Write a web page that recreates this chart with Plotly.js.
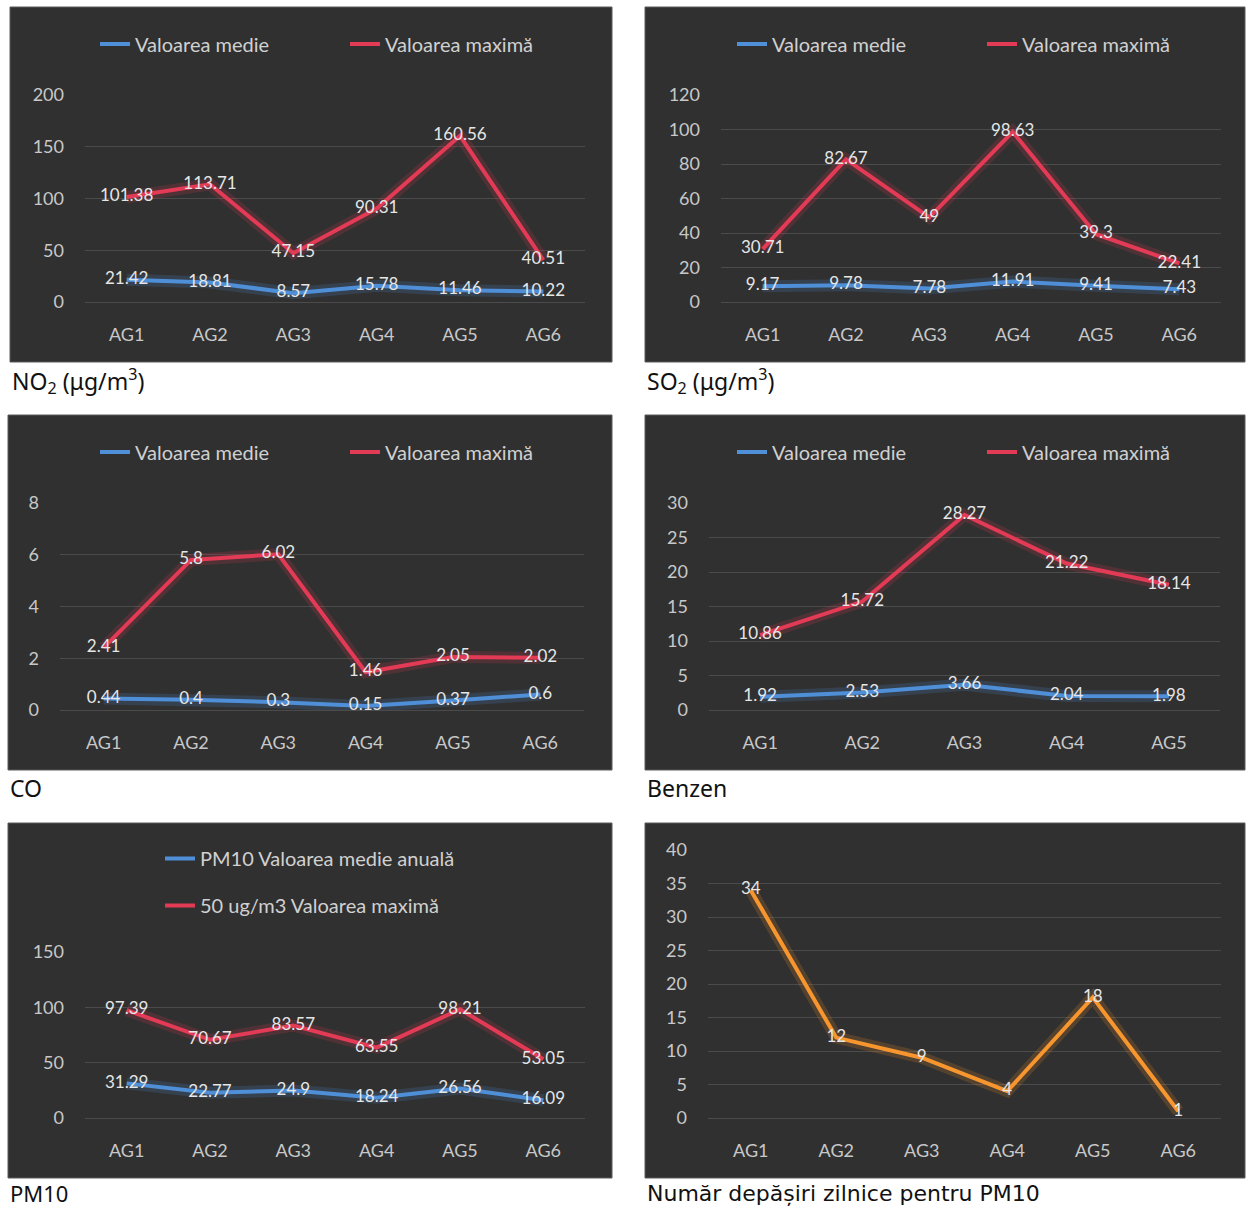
<!DOCTYPE html>
<html>
<head>
<meta charset="utf-8">
<script src="https://cdn.plot.ly/plotly-3.0.1.min.js"></script>
<style>
html,body{margin:0;padding:0;background:#ffffff;overflow:hidden;}
#chart{width:1247px;height:1208px;}
</style>
</head>
<body>
<div id="chart"></div>
<script>
// ---- data ----
const categories6 = ['AG1', 'AG2', 'AG3', 'AG4', 'AG5', 'AG6'];
const categories5 = ['AG1', 'AG2', 'AG3', 'AG4', 'AG5'];

const no2Medie = [21.42, 18.81, 8.57, 15.78, 11.46, 10.22];
const no2Max   = [101.38, 113.71, 47.15, 90.31, 160.56, 40.51];

const so2Medie = [9.17, 9.78, 7.78, 11.91, 9.41, 7.43];
const so2Max   = [30.71, 82.67, 49, 98.63, 39.3, 22.41];

const coMedie = [0.44, 0.4, 0.3, 0.15, 0.37, 0.6];
const coMax   = [2.41, 5.8, 6.02, 1.46, 2.05, 2.02];

const benzenMedie = [1.92, 2.53, 3.66, 2.04, 1.98];
const benzenMax   = [10.86, 15.72, 28.27, 21.22, 18.14];

const pm10Medie = [31.29, 22.77, 24.9, 18.24, 26.56, 16.09];
const pm10Max   = [97.39, 70.67, 83.57, 63.55, 98.21, 53.05];

const pm10Depasiri = [34, 12, 9, 4, 18, 1];

const nameMedie = 'Valoarea medie';
const nameMax = 'Valoarea maximă';
const namePm10Medie = 'PM10 Valoarea medie anuală';
const namePm10Max = '50 ug/m3 Valoarea maximă';

const captions = ['NO<sub>2</sub> (μg/m<sup>3</sup>)', 'SO<sub>2</sub> (μg/m<sup>3</sup>)', 'CO', 'Benzen', 'PM10', 'Număr depășiri zilnice pentru PM10'];

// ---- styles ----
const W = 1247, H = 1208;
const FONT = 'Lato, "Open Sans", sans-serif';
const BLUE = '#4f8fd8', RED = '#e33a55', ORANGE = '#f7962e';
const LABEL_FONT = {family: FONT, size: 17, color: '#e6e6e6'};

function px(x){ return x / W; }
function py(y){ return 1 - y / H; }

function axes(axisIdx){
  const s = axisIdx === 1 ? '' : String(axisIdx);
  return {xaxis: 'x' + s, yaxis: 'y' + s};
}

function glowTrace(x, y, color, axisIdx){
  return Object.assign({
    type: 'scatter', mode: 'lines', x: x, y: y,
    line: {color: color, width: 12}, opacity: 0.18,
    showlegend: false, hoverinfo: 'skip'
  }, axes(axisIdx));
}

function lineTrace(x, y, name, color, axisIdx, legendId, showlegend, group){
  return Object.assign({
    type: 'scatter', mode: 'lines+text', x: x, y: y, name: name,
    line: {color: color, width: 4},
    text: y.map(v => String(v)),
    textposition: 'middle center',
    textfont: LABEL_FONT,
    cliponaxis: false,
    showlegend: showlegend,
    legend: legendId,
    legendgroup: group,
    hoverinfo: 'x+y'
  }, axes(axisIdx));
}

const series = [
  [categories6, no2Medie, nameMedie, BLUE, 1, 'legend', true, 'a'],
  [categories6, no2Max, nameMax, RED, 1, 'legend', true, 'b'],
  [categories6, so2Medie, nameMedie, BLUE, 2, 'legend2', true, 'a2'],
  [categories6, so2Max, nameMax, RED, 2, 'legend2', true, 'b2'],
  [categories6, coMedie, nameMedie, BLUE, 3, 'legend3', true, 'a3'],
  [categories6, coMax, nameMax, RED, 3, 'legend3', true, 'b3'],
  [categories5, benzenMedie, nameMedie, BLUE, 4, 'legend4', true, 'a4'],
  [categories5, benzenMax, nameMax, RED, 4, 'legend4', true, 'b4'],
  [categories6, pm10Medie, namePm10Medie, BLUE, 5, 'legend5', true, 'a5'],
  [categories6, pm10Max, namePm10Max, RED, 5, 'legend5', true, 'b5'],
  [categories6, pm10Depasiri, 'Număr depășiri', ORANGE, 6, 'legend', false, 'c6']
];

const data = [];
series.forEach(s => data.push(glowTrace(s[0], s[1], s[3], s[4])));
series.forEach(s => data.push(lineTrace.apply(null, s)));

// panel plot areas in pixels: [left, right, top, bottom], y range, dtick, category count
const panels = [
  {l: 85,  r: 585,  t: 95,  b: 302,  range: [0, 200], dtick: 50, n: categories6.length},
  {l: 721, r: 1221, t: 95,  b: 302,  range: [0, 120], dtick: 20, n: categories6.length},
  {l: 60,  r: 584,  t: 503, b: 710,  range: [0, 8],   dtick: 2,  n: categories6.length},
  {l: 709, r: 1220, t: 503, b: 710,  range: [0, 30],  dtick: 5,  n: categories5.length},
  {l: 85,  r: 585,  t: 952, b: 1118, range: [0, 150], dtick: 50, n: categories6.length},
  {l: 708, r: 1221, t: 850, b: 1118, range: [0, 40],  dtick: 5,  n: categories6.length}
];

// panel background boxes [x0, x1, y0, y1] in pixels
const boxes = [
  [10, 612, 7, 362], [645, 1245, 7, 362],
  [8, 612, 415, 770], [645, 1245, 415, 770],
  [8, 612, 823, 1178], [645, 1245, 823, 1178]
];
const captionPos = [[10, 381], [645, 381], [8, 788], [645, 788], [8, 1193], [645, 1193]];

const layout = {
  width: W, height: H,
  margin: {l: 0, r: 0, t: 0, b: 0, autoexpand: false},
  paper_bgcolor: '#ffffff',
  plot_bgcolor: 'rgba(0,0,0,0)',
  font: {family: FONT, color: '#d9d9d9'},
  shapes: [],
  annotations: []
};

panels.forEach((p, i) => {
  const s = i === 0 ? '' : String(i + 1);
  layout['xaxis' + s] = {
    domain: [px(p.l), px(p.r)],
    anchor: 'y' + s,
    type: 'category',
    range: [-0.5, p.n - 0.5],
    showgrid: false, zeroline: false, showline: false,
    ticks: '', ticklabelstandoff: 20,
    tickfont: {family: FONT, size: 18, color: '#c8c8c8'},
    fixedrange: true, automargin: false
  };
  layout['yaxis' + s] = {
    domain: [py(p.b), py(p.t)],
    anchor: 'x' + s,
    range: p.range, dtick: p.dtick, tick0: 0,
    showgrid: true, gridcolor: '#4b4b4b', gridwidth: 1,
    zeroline: true, zerolinecolor: '#4b4b4b', zerolinewidth: 1,
    showline: false, ticks: '', ticklabelstandoff: 20,
    tickfont: {family: FONT, size: 18, color: '#c8c8c8'},
    fixedrange: true, automargin: false
  };
});

boxes.forEach(b => {
  layout.shapes.push({
    type: 'rect', xref: 'paper', yref: 'paper', layer: 'below',
    x0: px(b[0]), x1: px(b[1]), y0: py(b[3]), y1: py(b[2]),
    fillcolor: '#303030', line: {color: '#5a5a5a', width: 1}
  });
});

captionPos.forEach((c, i) => {
  layout.annotations.push({
    xref: 'paper', yref: 'paper', x: px(c[0]), y: py(c[1]),
    xanchor: 'left', yanchor: 'middle', showarrow: false,
    text: captions[i],
    font: {family: i === 5 ? '"DejaVu Sans", sans-serif' : '"Noto Sans", sans-serif', size: i >= 4 ? 22 : 23, color: '#111111'}
  });
});

function hLegend(xPix, yPix){
  return {
    orientation: 'h', x: px(xPix), y: py(yPix), xanchor: 'left', yanchor: 'middle',
    bgcolor: 'rgba(0,0,0,0)', entrywidth: 205, entrywidthmode: 'pixels',
    font: {family: FONT, size: 20, color: '#d0d0d0'},
    traceorder: 'normal'
  };
}
layout.legend = hLegend(95, 44);
layout.legend2 = hLegend(732, 44);
layout.legend3 = hLegend(95, 452);
layout.legend4 = hLegend(732, 452);
layout.legend5 = {
  orientation: 'v', x: px(160), y: py(882), xanchor: 'left', yanchor: 'middle',
  bgcolor: 'rgba(0,0,0,0)', traceorder: 'grouped', tracegroupgap: 18,
  font: {family: FONT, size: 20, color: '#d0d0d0'}
};

Plotly.newPlot('chart', data, layout, {displayModeBar: false, staticPlot: true});
</script>
</body>
</html>
